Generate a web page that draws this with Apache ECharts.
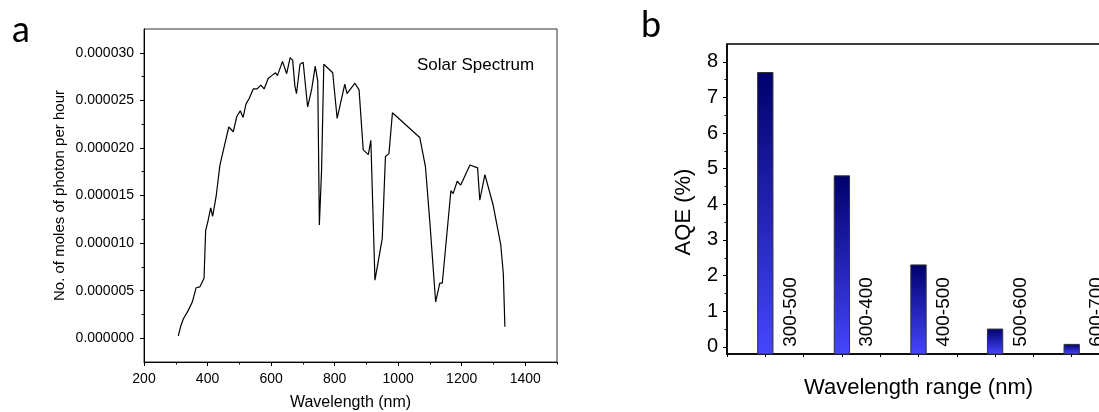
<!DOCTYPE html>
<html>
<head>
<meta charset="utf-8">
<script src="https://cdn.jsdelivr.net/npm/echarts@6/dist/echarts.min.js"></script>
<style>
html,body{margin:0;padding:0;background:#fff;}
#c{width:1099px;height:412px;}
</style>
</head>
<body>
<div id="c"></div>
<script>
// ---------- Panel a: solar spectrum ----------
const wavelengths = [308,315,324,339,352,364,376,389,394,402,410,416,427,439,455,467,481,492,503,512,521,531,544,556,568,578,591,602,614,620,636,649,660,668,675,680,691,701,715,728,739,747,752,759,766,794,808,832,839,864,877,890,906,914,927,950,960,971,982,1068,1086,1100,1118,1131,1139,1166,1173,1186,1197,1226,1250,1257,1273,1299,1323,1331,1336];
// moles of photon per hour, in units of 1e-6
const photonMoles = [0.25,1.2,2.05,2.9,3.8,5.3,5.4,6.3,11.3,12.4,13.7,12.8,14.9,18.2,20.5,22.2,21.7,23.3,23.9,23.2,24.6,25.2,26.2,26.2,26.6,26.2,27.3,27.6,27.9,27.6,29.1,27.8,29.5,29.2,26.5,25.7,28.8,29.0,24.3,26.2,28.6,27.0,11.9,17.7,28.8,27.9,23.1,26.7,25.7,26.8,26.1,19.8,19.3,20.8,6.1,10.5,19.1,19.4,23.7,21.1,18.0,12.1,3.8,5.8,5.8,15.5,15.2,16.5,16.1,18.2,17.9,14.5,17.2,14.0,9.8,6.8,1.2];
const xTicksA = [200,400,600,800,1000,1200,1400];
const xMinorA = [300,500,700,900,1100,1300,1500];
const yTicksA = [0,5,10,15,20,25,30];
const yMinorA = [2.5,7.5,12.5,17.5,22.5,27.5];

// ---------- Panel b: AQE ----------
const ranges = ['300-500','300-400','400-500','500-600','600-700'];
const aqe = [7.7,4.8,2.3,0.5,0.07];
const yTicksB = [0,1,2,3,4,5,6,7,8];
const yMinorB = [0.5,1.5,2.5,3.5,4.5,5.5,6.5,7.5];

const FONT = '"Liberation Sans", Arial, sans-serif';
const B_MIN = -0.2;

const chart = echarts.init(document.getElementById('c'), null, {renderer:'canvas'});

const lineData = wavelengths.map((w,i)=>[w, photonMoles[i]]);
const barData = aqe.map((v,i)=>[2*i+1, v]);

const option = {
  animation:false,
  backgroundColor:'#fff',
  grid:[
    {left:144, top:29, width:413, height:333, outerBoundsMode:'none', containLabel:false,
     show:true, borderColor:'#333', borderWidth:1, backgroundColor:'transparent'},
    {left:727, top:44, width:383, height:310, outerBoundsMode:'none', containLabel:false,
     show:true, borderColor:'#000', borderWidth:1.5, backgroundColor:'transparent'}
  ],
  xAxis:[
    {gridIndex:0, type:'value', position:'bottom', min:200, max:1500,
     name:'Wavelength (nm)', nameLocation:'middle', nameGap:33,
     nameTextStyle:{fontFamily:FONT, fontSize:16, color:'#000'},
     axisLine:{show:true, onZero:false, lineStyle:{color:'#000', width:1}},
     axisTick:{show:true, inside:false, length:4, customValues:xTicksA, lineStyle:{color:'#000'}},
     axisLabel:{show:true, customValues:xTicksA, margin:10, fontFamily:FONT, fontSize:14, color:'#000',
       formatter:function(v){return String(v);}},
     splitLine:{show:false}},
    {gridIndex:0, type:'value', position:'bottom', min:200, max:1500,
     axisLine:{show:false, onZero:false},
     axisTick:{show:true, inside:false, length:2.5, customValues:xMinorA, lineStyle:{color:'#000'}},
     axisLabel:{show:false}, splitLine:{show:false}},
    {gridIndex:1, type:'value', position:'bottom', min:0, max:10, interval:1,
     name:'Wavelength range (nm)', nameLocation:'middle', nameGap:23,
     nameTextStyle:{fontFamily:FONT, fontSize:22, color:'#000'},
     axisLine:{show:true, onZero:false, lineStyle:{color:'#000', width:1.5}},
     axisTick:{show:true, inside:false, length:3, lineStyle:{color:'#000'}},
     axisLabel:{show:false}, splitLine:{show:false}}
  ],
  yAxis:[
    {gridIndex:0, type:'value', position:'left', min:-2.5, max:32.5,
     name:'No. of moles of photon per hour', nameLocation:'middle', nameGap:77,
     nameTextStyle:{fontFamily:FONT, fontSize:15, color:'#000'},
     axisLine:{show:true, onZero:false, lineStyle:{color:'#000', width:1}},
     axisTick:{show:true, inside:false, length:4, customValues:yTicksA, lineStyle:{color:'#000'}},
     axisLabel:{show:true, customValues:yTicksA, margin:10, fontFamily:FONT, fontSize:14, color:'#000',
       formatter:function(v){return (v/1e6).toFixed(6);}},
     splitLine:{show:false}},
    {gridIndex:0, type:'value', position:'left', min:-2.5, max:32.5,
     axisLine:{show:false, onZero:false},
     axisTick:{show:true, inside:false, length:2.5, customValues:yMinorA, lineStyle:{color:'#000'}},
     axisLabel:{show:false}, splitLine:{show:false}},
    {gridIndex:1, type:'value', position:'left', min:B_MIN, max:8.5,
     name:'AQE (%)', nameLocation:'middle', nameGap:32,
     nameTextStyle:{fontFamily:FONT, fontSize:22, color:'#000', padding:[0,26,0,0]},
     axisLine:{show:true, onZero:false, lineStyle:{color:'#000', width:1.5}},
     axisTick:{show:true, inside:false, length:4, customValues:yTicksB, lineStyle:{color:'#000'}},
     axisLabel:{show:true, customValues:yTicksB, margin:9, fontFamily:FONT, fontSize:20, color:'#000'},
     splitLine:{show:false}},
    {gridIndex:1, type:'value', position:'left', min:B_MIN, max:8.5,
     axisLine:{show:false, onZero:false},
     axisTick:{show:true, inside:false, length:2.5, customValues:yMinorB, lineStyle:{color:'#000'}},
     axisLabel:{show:false}, splitLine:{show:false}}
  ],
  series:[
    {type:'line', xAxisIndex:0, yAxisIndex:0, data:lineData, symbol:'none', smooth:false,
     lineStyle:{color:'#000', width:1.2}},
    {type:'custom', xAxisIndex:2, yAxisIndex:2, data:barData, clip:false,
     renderItem:function(params, api){
       const x = api.value(0), v = api.value(1);
       const top = api.coord([x, v]);
       const base = api.coord([x, B_MIN]);
       const zero = api.coord([x, 0]);
       const w = api.size([0.4, 0])[0];
       const off = api.size([0.66, 0])[0];
       return {type:'group', children:[
         {type:'rect', shape:{x:top[0]-w/2, y:top[1], width:w, height:base[1]-top[1]},
          style:{fill:new echarts.graphic.LinearGradient(0,0,0,1,[{offset:0,color:'#00006c'},{offset:1,color:'#4646ff'}]),
                 stroke:'#333', lineWidth:1}},
         {type:'text', x:top[0]+off, y:zero[1], rotation:Math.PI/2,
          style:{text:ranges[params.dataIndex], fontFamily:FONT, fontSize:19, fill:'#000', align:'left', verticalAlign:'middle'}}
       ]};
     }}
  ],
  graphic:[
    {type:'text', left:12, top:12, style:{text:'a', fontFamily:'Lato, "Open Sans", sans-serif', fontSize:36, fill:'#000'}},
    {type:'text', left:641, top:7, style:{text:'b', fontFamily:'Lato, "Open Sans", sans-serif', fontSize:36, fill:'#000'}},
    {type:'text', left:417, top:57, style:{text:'Solar Spectrum', fontFamily:FONT, fontSize:17, fill:'#000'}}
  ]
};
chart.setOption(option);
</script>
</body>
</html>
